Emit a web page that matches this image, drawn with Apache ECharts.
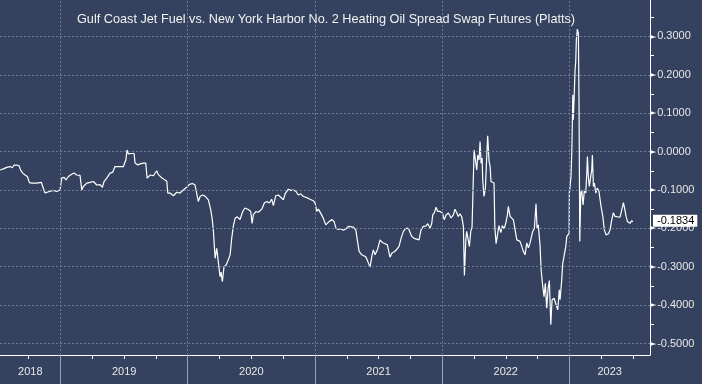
<!DOCTYPE html>
<html>
<head>
<meta charset="utf-8">
<script src="https://cdn.jsdelivr.net/npm/echarts@6/dist/echarts.min.js"></script>
<style>html,body{margin:0;padding:0;background:#34425f;}#c{width:702px;height:384px;}</style>
</head>
<body>
<div id="c"></div>
<script>
// Time positions in decimal years
const times = [
2018.524,2018.550,2018.577,2018.603,2018.621,2018.634,2018.656,2018.674,2018.687,2018.703,
2018.721,2018.739,2018.755,2018.774,2018.813,2018.849,2018.860,2018.878,2018.892,2018.912,
2018.943,2018.970,2018.996,2019.009,2019.028,2019.043,2019.061,2019.088,2019.106,2019.127,
2019.153,2019.167,2019.179,2019.206,2019.232,2019.258,2019.285,2019.311,2019.329,2019.342,
2019.363,2019.389,2019.410,2019.428,2019.462,2019.494,2019.513,2019.523,2019.533,2019.554,
2019.578,2019.586,2019.607,2019.625,2019.651,2019.670,2019.680,2019.690,2019.706,2019.730,
2019.756,2019.769,2019.788,2019.800,2019.816,2019.835,2019.843,2019.861,2019.887,2019.914,
2019.939,2019.965,2019.992,2020.010,2020.036,2020.057,2020.071,2020.083,2020.097,2020.115,
2020.136,2020.162,2020.181,2020.193,2020.201,2020.215,2020.228,2020.241,2020.254,2020.262,
2020.272,2020.285,2020.301,2020.319,2020.333,2020.346,2020.358,2020.372,2020.390,2020.411,
2020.432,2020.450,2020.476,2020.495,2020.506,2020.516,2020.537,2020.555,2020.582,2020.602,
2020.621,2020.642,2020.660,2020.673,2020.692,2020.712,2020.731,2020.752,2020.765,2020.791,
2020.810,2020.830,2020.851,2020.869,2020.888,2020.909,2020.936,2020.961,2020.987,2021.001,
2021.014,2021.027,2021.046,2021.066,2021.085,2021.097,2021.113,2021.132,2021.150,2021.166,
2021.184,2021.205,2021.223,2021.245,2021.263,2021.276,2021.302,2021.321,2021.333,2021.347,
2021.368,2021.381,2021.399,2021.415,2021.433,2021.447,2021.459,2021.473,2021.491,2021.512,
2021.530,2021.551,2021.569,2021.590,2021.604,2021.624,2021.643,2021.661,2021.677,2021.695,
2021.714,2021.734,2021.748,2021.761,2021.779,2021.800,2021.818,2021.834,2021.852,2021.871,
2021.887,2021.905,2021.918,2021.926,2021.939,2021.952,2021.965,2021.983,2022.002,2022.017,
2022.031,2022.049,2022.070,2022.088,2022.101,2022.115,2022.127,2022.140,2022.154,2022.167,
2022.175,2022.186,2022.193,2022.204,2022.214,2022.225,2022.235,2022.245,2022.251,2022.261,
2022.272,2022.280,2022.290,2022.298,2022.306,2022.314,2022.319,2022.329,2022.340,2022.351,
2022.358,2022.369,2022.377,2022.384,2022.395,2022.408,2022.414,2022.424,2022.434,2022.447,
2022.461,2022.473,2022.487,2022.500,2022.513,2022.520,2022.534,2022.547,2022.560,2022.574,
2022.587,2022.599,2022.612,2022.626,2022.638,2022.652,2022.665,2022.678,2022.691,2022.704,
2022.712,2022.725,2022.738,2022.746,2022.756,2022.770,2022.778,2022.791,2022.801,2022.811,
2022.822,2022.833,2022.843,2022.854,2022.864,2022.880,2022.895,2022.909,2022.921,2022.927,
2022.940,2022.948,2022.958,2022.972,2022.980,2022.998,2023.000,2023.008,2023.013,2023.019,
2023.024,2023.027,2023.031,2023.037,2023.045,2023.050,2023.055,2023.063,2023.071,2023.076,
2023.082,2023.090,2023.097,2023.108,2023.118,2023.129,2023.137,2023.142,2023.149,2023.157,
2023.168,2023.176,2023.181,2023.189,2023.197,2023.208,2023.220,2023.233,2023.249,2023.263,
2023.275,2023.289,2023.307,2023.320,2023.333,2023.346,2023.359,2023.373,2023.399,2023.412,
2023.425,2023.437,2023.446,2023.456,2023.464,2023.477,2023.491,2023.498
];
const spread = [
-0.048,-0.045,-0.041,-0.039,-0.042,-0.035,-0.035,-0.037,-0.049,-0.056,
-0.061,-0.065,-0.081,-0.082,-0.082,-0.080,-0.091,-0.108,-0.104,-0.104,
-0.101,-0.104,-0.100,-0.069,-0.067,-0.074,-0.065,-0.059,-0.056,-0.061,
-0.062,-0.100,-0.091,-0.082,-0.080,-0.078,-0.087,-0.086,-0.093,-0.078,
-0.069,-0.056,-0.054,-0.039,-0.039,-0.039,-0.022,0.004,-0.006,-0.005,
-0.005,-0.030,-0.035,-0.032,-0.030,-0.030,-0.069,-0.065,-0.061,-0.063,
-0.050,-0.060,-0.066,-0.071,-0.073,-0.077,-0.108,-0.108,-0.115,-0.106,
-0.108,-0.100,-0.093,-0.086,-0.083,-0.087,-0.086,-0.130,-0.117,-0.113,
-0.116,-0.126,-0.152,-0.178,-0.204,-0.278,-0.252,-0.255,-0.326,-0.314,
-0.339,-0.300,-0.296,-0.282,-0.269,-0.225,-0.195,-0.174,-0.170,-0.177,
-0.156,-0.147,-0.151,-0.156,-0.187,-0.164,-0.156,-0.158,-0.150,-0.134,
-0.130,-0.134,-0.124,-0.141,-0.115,-0.113,-0.119,-0.126,-0.110,-0.098,
-0.101,-0.100,-0.104,-0.113,-0.110,-0.117,-0.120,-0.124,-0.128,-0.134,
-0.156,-0.150,-0.161,-0.174,-0.191,-0.191,-0.182,-0.177,-0.182,-0.200,
-0.203,-0.201,-0.205,-0.201,-0.195,-0.195,-0.197,-0.204,-0.230,-0.260,
-0.269,-0.273,-0.274,-0.286,-0.301,-0.273,-0.256,-0.269,-0.256,-0.230,
-0.237,-0.240,-0.243,-0.275,-0.265,-0.261,-0.255,-0.247,-0.226,-0.208,
-0.200,-0.200,-0.211,-0.221,-0.226,-0.228,-0.230,-0.204,-0.195,-0.194,
-0.188,-0.200,-0.187,-0.165,-0.159,-0.145,-0.156,-0.156,-0.160,-0.178,
-0.165,-0.160,-0.173,-0.165,-0.150,-0.160,-0.169,-0.162,-0.170,-0.195,
-0.323,-0.230,-0.208,-0.213,-0.247,-0.208,-0.197,-0.194,0.004,0.009,
-0.048,-0.009,-0.022,0.026,-0.030,-0.017,-0.074,-0.117,-0.096,-0.009,
0.041,-0.026,-0.038,-0.078,-0.082,-0.082,-0.195,-0.240,-0.238,-0.193,
-0.211,-0.193,-0.201,-0.187,-0.165,-0.143,-0.169,-0.165,-0.178,-0.182,
-0.230,-0.234,-0.234,-0.247,-0.260,-0.269,-0.238,-0.251,-0.238,-0.243,
-0.208,-0.200,-0.136,-0.200,-0.191,-0.247,-0.308,-0.352,-0.378,-0.343,
-0.408,-0.356,-0.336,-0.451,-0.386,-0.382,-0.386,-0.412,-0.360,-0.386,
-0.334,-0.291,-0.273,-0.247,-0.221,-0.213,-0.108,-0.082,-0.065,-0.004,
0.083,0.148,0.083,0.135,0.213,0.234,0.291,0.319,0.308,0.126,
-0.234,-0.108,-0.100,-0.139,-0.100,-0.108,-0.056,-0.013,-0.065,-0.091,
-0.065,-0.048,-0.009,-0.091,-0.082,-0.108,-0.095,-0.104,-0.143,-0.169,
-0.204,-0.217,-0.214,-0.204,-0.178,-0.159,-0.169,-0.171,-0.171,-0.169,
-0.133,-0.152,-0.169,-0.182,-0.178,-0.187,-0.180,-0.1834
];
const yearBreaks = [2019, 2020, 2021, 2022, 2023];
const yTicks = [-0.5, -0.4, -0.3, -0.2, -0.1, 0.0, 0.1, 0.2, 0.3];
const xMin = 2018.524, xMax = 2023.634;
const yMin = -0.53, yMax = 0.395;
const titleText = 'Gulf Coast Jet Fuel vs. New York Harbor No. 2 Heating Oil Spread Swap Futures (Platts)';

const seriesData = times.map((t, i) => [t, spread[i]]);
// mid points of visible part of each year for year labels
const yearLabelPos = [];
for (let y = 2018; y <= 2023; y++) {
  const a = Math.max(y, xMin), b = Math.min(y + 1, xMax);
  yearLabelPos.push((a + b) / 2);
}
const quarterTicks = [];
for (let y = 2018; y <= 2023; y++) {
  [0.25, 0.5, 0.75].forEach(q => { const v = y + q; if (v > xMin && v < xMax) quarterTicks.push(v); });
}
const yMinor = [];
for (let v = -0.45; v < 0.39; v += 0.1) yMinor.push(Math.round(v * 100) / 100);
const last = spread[spread.length - 1];

const gridColor = '#6d7a95';
const chart = echarts.init(document.getElementById('c'), null, {renderer: 'canvas'});
chart.setOption({
  backgroundColor: '#34425f',
  animation: false,
  title: {
    text: titleText, left: 72, top: 8,
    textStyle: {color: '#f2f2f2', fontSize: 12.7, fontWeight: 'normal', fontFamily: 'Liberation Sans, Arial, sans-serif'}
  },
  grid: {left: 0, right: 52, top: 0, bottom: 29, containLabel: false},
  xAxis: [{
    type: 'value', min: xMin, max: xMax, position: 'bottom',
    axisLine: {show: true, onZero: false, lineStyle: {color: '#ffffff', width: 1}},
    axisTick: {show: true, customValues: quarterTicks, length: 4, lineStyle: {color: '#ffffff'}},
    axisLabel: {show: false}, splitLine: {show: false}
  }, {
    type: 'value', min: xMin, max: xMax, position: 'bottom',
    axisLine: {show: false, onZero: false},
    axisTick: {show: true, customValues: yearBreaks, length: 30, lineStyle: {color: '#98a2b8'}},
    axisLabel: {show: true, customValues: yearLabelPos, margin: 11, color: '#e8e8e8', fontSize: 11,
      fontFamily: 'Liberation Sans, Arial, sans-serif', formatter: v => String(Math.floor(v + 1e-9))},
    splitLine: {show: false}
  }],
  yAxis: {
    type: 'value', min: yMin, max: yMax, position: 'right',
    axisLine: {show: true, onZero: false, lineStyle: {color: '#ffffff', width: 1}},
    axisTick: {show: true, customValues: yMinor, length: 4, lineStyle: {color: '#ffffff'}},
    axisLabel: {
      show: true, customValues: yTicks, margin: 0,
      formatter: v => '{a|►}{b|' + v.toFixed(4) + '}',
      rich: {
        a: {color: '#ffffff', fontSize: 8, fontFamily: 'DejaVu Sans'},
        b: {color: '#e8e8e8', fontSize: 11, fontFamily: 'Liberation Sans, Arial, sans-serif', padding: [0, 0, 0, 1]}
      }
    },
    splitLine: {show: false}
  },
  series: [{
    type: 'line', data: [], z: 1, silent: true,
    markLine: {
      silent: true, symbol: ['none', 'none'], animation: false,
      label: {show: false},
      lineStyle: {color: gridColor, type: [2, 2], width: 1},
      data: yearBreaks.map(v => ({xAxis: v})).concat(yTicks.map(v => ({yAxis: v})))
    }
  }, {
    type: 'line', data: seriesData, z: 3, showSymbol: false, symbol: 'none',
    lineStyle: {color: '#ffffff', width: 1.2},
    markLine: {
      silent: true, symbol: ['none', 'none'], animation: false,
      lineStyle: {color: 'rgba(0,0,0,0)', width: 0},
      label: {
        show: true, position: 'end', distance: 3, formatter: () => last.toFixed(4),
        backgroundColor: '#ffffff', color: '#000000', fontSize: 11, padding: [1, 3, 0, 4],
        fontFamily: 'Liberation Sans, Arial, sans-serif'
      },
      emphasis: {disabled: true},
      data: [{yAxis: last}]
    }
  }]
});
</script>
</body>
</html>
